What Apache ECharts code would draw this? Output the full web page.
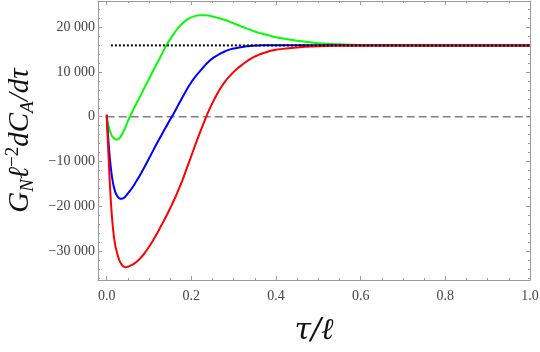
<!DOCTYPE html>
<html>
<head>
<meta charset="utf-8">
<script src="https://cdn.jsdelivr.net/npm/echarts@6/dist/echarts.min.js"></script>
<style>
  html, body { margin: 0; padding: 0; background: #fff; }
  #chart { width: 540px; height: 352px; }
</style>
</head>
<body>
<div id="chart"></div>
<script>
// tau / l sample points shared by the three curves
const tau = [0, 0.005, 0.01, 0.015, 0.02, 0.025, 0.03, 0.035, 0.04, 0.045, 0.05,
  0.06, 0.07, 0.08, 0.09, 0.1, 0.11, 0.12, 0.13, 0.14, 0.15, 0.16, 0.17, 0.18, 0.19, 0.2,
  0.21, 0.22, 0.23, 0.24, 0.25, 0.26, 0.27, 0.28, 0.29, 0.3,
  0.31, 0.32, 0.33, 0.34, 0.35, 0.36, 0.37, 0.38, 0.39, 0.4,
  0.45, 0.5, 0.55, 0.6, 0.7, 0.8, 0.9, 1.0]

const greenVals = [300, -2300, -3800, -4600, -5000, -5100, -4800, -4100, -3200, -2200, -1000,
  1000, 2900, 4700, 6600, 8400, 10300, 12100, 13900, 15700, 17300, 18700, 19900, 20900, 21650, 22150,
  22480, 22640, 22650, 22550, 22350, 22100, 21850, 21550, 21200, 20800,
  20450, 20050, 19700, 19350, 19000, 18700, 18450, 18200, 17950, 17700,
  16950, 16400, 16150, 16000, 15920, 15900, 15900, 15900]

const blueVals = [300, -6500, -11500, -14800, -16700, -17700, -18200, -18300, -18150, -17700, -17100,
  -15900, -14400, -12800, -11100, -9300, -7500, -5700, -4000, -2300, -600, 1000, 2800, 4500, 6200, 7700,
  9000, 10100, 11200, 12200, 13000, 13600, 14150, 14600, 14950, 15200,
  15400, 15550, 15700, 15800, 15860, 15900, 15920, 15940, 15950, 15950,
  15940, 15920, 15910, 15900, 15900, 15900, 15900, 15900]

const redVals = [500, -10000, -19000, -25000, -28500, -30500, -32000, -32900, -33400, -33550, -33450,
  -33050, -32400, -31500, -30350, -29000, -27500, -25850, -24100, -22300, -20400, -18400, -16200, -13900, -11300, -8700,
  -6100, -3600, -1200, 1100, 3100, 4900, 6500, 7900, 9000, 10000,
  10850, 11600, 12300, 12900, 13400, 13850, 14200, 14500, 14750, 14950,
  15450, 15700, 15830, 15880, 15900, 15900, 15900, 15900]

const zeroLine = [[0, 0], [1, 0]]
const limitLine = [[0.01, 15900], [1, 15900]]

const xRange = [-0.0205, 1]
const yRange = [-36400, 25800]

const pairs = vals => tau.map((t, i) => [t, vals[i]])

function fmtY(v) {
    if (v === 0) return '0'
    const s = Math.abs(v).toString().replace(/\B(?=(\d{3})+(?!\d))/g, ' ')
    return (v < 0 ? '\u2212' : '') + s
}

const frame = '#9a9a9a'
const serif = 'Liberation Serif'

const chart = echarts.init(document.getElementById('chart'), null, { renderer: 'canvas' })

const tickStyle = { show: true, inside: true, length: 4, lineStyle: { color: frame } }
const minorStyle = { show: true, length: 2, lineStyle: { color: frame } }
const frameLine = { show: true, onZero: false, lineStyle: { color: frame } }

chart.setOption({
    animation: false,
    backgroundColor: '#fff',
    grid: { left: 98, right: 10, top: 1, bottom: 72, outerBoundsMode: 'none' },
    xAxis: [{
        type: 'value',
        min: xRange[0],
        max: xRange[1],
        axisLine: frameLine,
        axisTick: tickStyle,
        minorTick: Object.assign({ splitNumber: 4 }, minorStyle),
        splitLine: { show: false },
        axisLabel: {
            showMinLabel: false,
            margin: 9,
            color: '#444',
            fontFamily: serif,
            fontSize: 14,
            formatter: v => v.toFixed(1)
        },
        name: 'τ/ℓ',
        nameLocation: 'middle',
        nameGap: 36,
        nameTextStyle: { fontFamily: 'DejaVu Serif', fontStyle: 'italic', fontSize: 30, color: '#111' }
    }, {
        type: 'value',
        position: 'top',
        min: xRange[0],
        max: xRange[1],
        axisLine: frameLine,
        axisTick: tickStyle,
        minorTick: Object.assign({ splitNumber: 4 }, minorStyle),
        splitLine: { show: false },
        axisLabel: { show: false }
    }],
    yAxis: [{
        type: 'value',
        min: yRange[0],
        max: yRange[1],
        axisLine: frameLine,
        axisTick: tickStyle,
        minorTick: Object.assign({ splitNumber: 5 }, minorStyle),
        splitLine: { show: false },
        axisLabel: {
            showMinLabel: false,
            showMaxLabel: false,
            margin: 3,
            color: '#444',
            fontFamily: serif,
            fontSize: 14,
            formatter: fmtY
        },
        name: '{i|G}{sub|N}{i|ℓ}{sup|\u22122}{i|dC}{sub|A}{i|/dτ}',
        nameLocation: 'middle',
        nameRotate: 90,
        nameGap: 46,
        nameTextStyle: {
            color: '#111',
            rich: {
                i: { fontFamily: serif, fontStyle: 'italic', fontSize: 29, lineHeight: 34, color: '#111' },
                sub: { fontFamily: serif, fontStyle: 'italic', fontSize: 19, lineHeight: 20, verticalAlign: 'bottom', color: '#111' },
                sup: { fontFamily: serif, fontSize: 19, lineHeight: 20, verticalAlign: 'top', color: '#111' }
            }
        }
    }, {
        type: 'value',
        position: 'right',
        min: yRange[0],
        max: yRange[1],
        axisLine: frameLine,
        axisTick: tickStyle,
        minorTick: Object.assign({ splitNumber: 5 }, minorStyle),
        splitLine: { show: false },
        axisLabel: { show: false }
    }],
    series: [
        {
            type: 'line', data: zeroLine, showSymbol: false, silent: true,
            lineStyle: { color: '#808080', width: 1.6, type: [8, 4] }
        },
        {
            type: 'line', data: pairs(greenVals), showSymbol: false, smooth: 0.5,
            lineStyle: { color: '#00ff00', width: 2 }
        },
        {
            type: 'line', data: pairs(blueVals), showSymbol: false, smooth: 0.5,
            lineStyle: { color: '#0000ff', width: 2 }
        },
        {
            type: 'line', data: pairs(redVals), showSymbol: false, smooth: 0.5,
            lineStyle: { color: '#ff0000', width: 2 }
        },
        {
            type: 'line', data: limitLine, showSymbol: false, silent: true,
            lineStyle: { color: '#000', width: 2, type: [2, 2] }
        }
    ]
})
</script>
</body>
</html>
